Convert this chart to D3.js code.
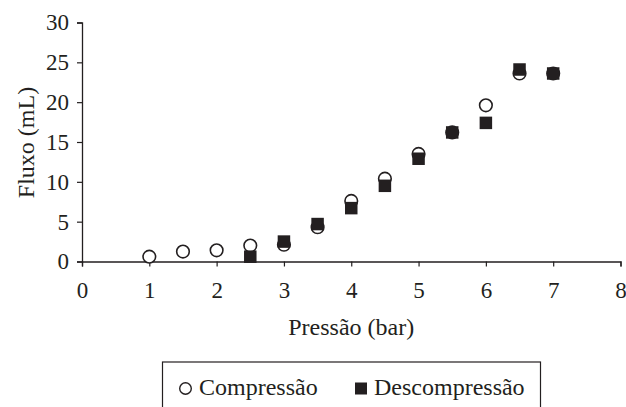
<!DOCTYPE html>
<html>
<head>
<meta charset="utf-8">
<script src="https://cdn.jsdelivr.net/npm/d3@7"></script>
<style>
  body { margin: 0; background: #fff; }
</style>
</head>
<body>
<script>
// Width and Height of the whole chart
var width = 626;
var height = 407;

// pressure (bar) and flow (mL)
var compPressure = [1, 1.5, 2, 2.5, 3, 3.5, 4, 4.5, 5, 5.5, 6, 6.5, 7];
var compFlow     = [0.6, 1.25, 1.4, 2.0, 2.1, 4.3, 7.6, 10.4, 13.5, 16.2, 19.6, 23.6, 23.6];

var decompPressure = [2.5, 3, 3.5, 4, 4.5, 5, 5.5, 6, 6.5, 7];
var decompFlow     = [0.6, 2.5, 4.7, 6.7, 9.5, 12.9, 16.2, 17.4, 24.1, 23.6];

var xTicks = [0, 1, 2, 3, 4, 5, 6, 7, 8];
var yTicks = [0, 5, 10, 15, 20, 25, 30];

var xLabel = "Pressão (bar)";
var yLabel = "Fluxo (mL)";
var seriesNames = ["Compressão", "Descompressão"];

var ink = "#231f20";
var serif = "'Liberation Serif', 'DejaVu Serif', serif";

var svg = d3.select("body")
    .append("svg")
    .attr("width", width)
    .attr("height", height)
    .style("font-family", serif);

var x = d3.scaleLinear().domain([0, 8]).range([82, 620.5]);
var y = d3.scaleLinear().domain([0, 30]).range([261.5, 22.5]);

// axes
var xAxis = svg.append("g")
    .attr("transform", "translate(0," + y(0) + ")")
    .call(d3.axisBottom(x).tickValues(xTicks).tickSize(5).tickPadding(15).tickFormat(d3.format("d")));

var yAxis = svg.append("g")
    .attr("transform", "translate(" + x(0) + ",0)")
    .call(d3.axisLeft(y).tickValues(yTicks).tickSize(5).tickPadding(8).tickFormat(d3.format("d")));

[xAxis, yAxis].forEach(function(a) {
  a.attr("font-family", null).attr("font-size", null);
  a.select(".domain").attr("stroke", ink).attr("stroke-width", 1.3);
  a.selectAll(".tick line").attr("stroke", ink).attr("stroke-width", 1.2);
  a.selectAll(".tick text")
    .style("font-family", serif)
    .style("font-size", "23px")
    .attr("fill", ink);
});

// axis titles
svg.append("text")
    .attr("x", (x(0) + x(8)) / 2)
    .attr("y", 335)
    .attr("text-anchor", "middle")
    .attr("fill", ink)
    .style("font-family", serif)
    .style("font-size", "24px")
    .text(xLabel);

svg.append("text")
    .attr("transform", "translate(34," + 142.5 + ") rotate(-90)")
    .attr("text-anchor", "middle")
    .attr("fill", ink)
    .style("font-family", serif)
    .style("font-size", "24px")
    .text(yLabel);

// compressão: open circles
var comp = compPressure.map(function(p, i) { return [p, compFlow[i]]; });
var decomp = decompPressure.map(function(p, i) { return [p, decompFlow[i]]; });

svg.append("g").selectAll("circle")
    .data(comp)
    .enter()
    .append("circle")
    .attr("cx", function(d) { return x(d[0]); })
    .attr("cy", function(d) { return y(d[1]); })
    .attr("r", 6.3)
    .attr("fill", "#fff")
    .attr("stroke", ink)
    .attr("stroke-width", 1.6);

// descompressão: filled squares
var sq = 12.5;
svg.append("g").selectAll("rect")
    .data(decomp)
    .enter()
    .append("rect")
    .attr("x", function(d) { return x(d[0]) - sq / 2; })
    .attr("y", function(d) { return y(d[1]) - sq / 2; })
    .attr("width", sq)
    .attr("height", sq)
    .attr("fill", ink);

// legend box
var legend = svg.append("g");
legend.append("rect")
    .attr("x", 162.5)
    .attr("y", 362)
    .attr("width", 378)
    .attr("height", 70)
    .attr("fill", "none")
    .attr("stroke", ink)
    .attr("stroke-width", 1.2);

legend.append("circle")
    .attr("cx", 185.5)
    .attr("cy", 388.5)
    .attr("r", 5.8)
    .attr("fill", "#fff")
    .attr("stroke", ink)
    .attr("stroke-width", 1.4);
legend.append("text")
    .attr("x", 199)
    .attr("y", 395)
    .attr("fill", ink)
    .style("font-family", serif)
    .style("font-size", "24px")
    .text(seriesNames[0]);

legend.append("rect")
    .attr("x", 355)
    .attr("y", 382.5)
    .attr("width", 12)
    .attr("height", 12)
    .attr("fill", ink);
legend.append("text")
    .attr("x", 374)
    .attr("y", 395)
    .attr("fill", ink)
    .style("font-family", serif)
    .style("font-size", "24px")
    .text(seriesNames[1]);
</script>
</body>
</html>
